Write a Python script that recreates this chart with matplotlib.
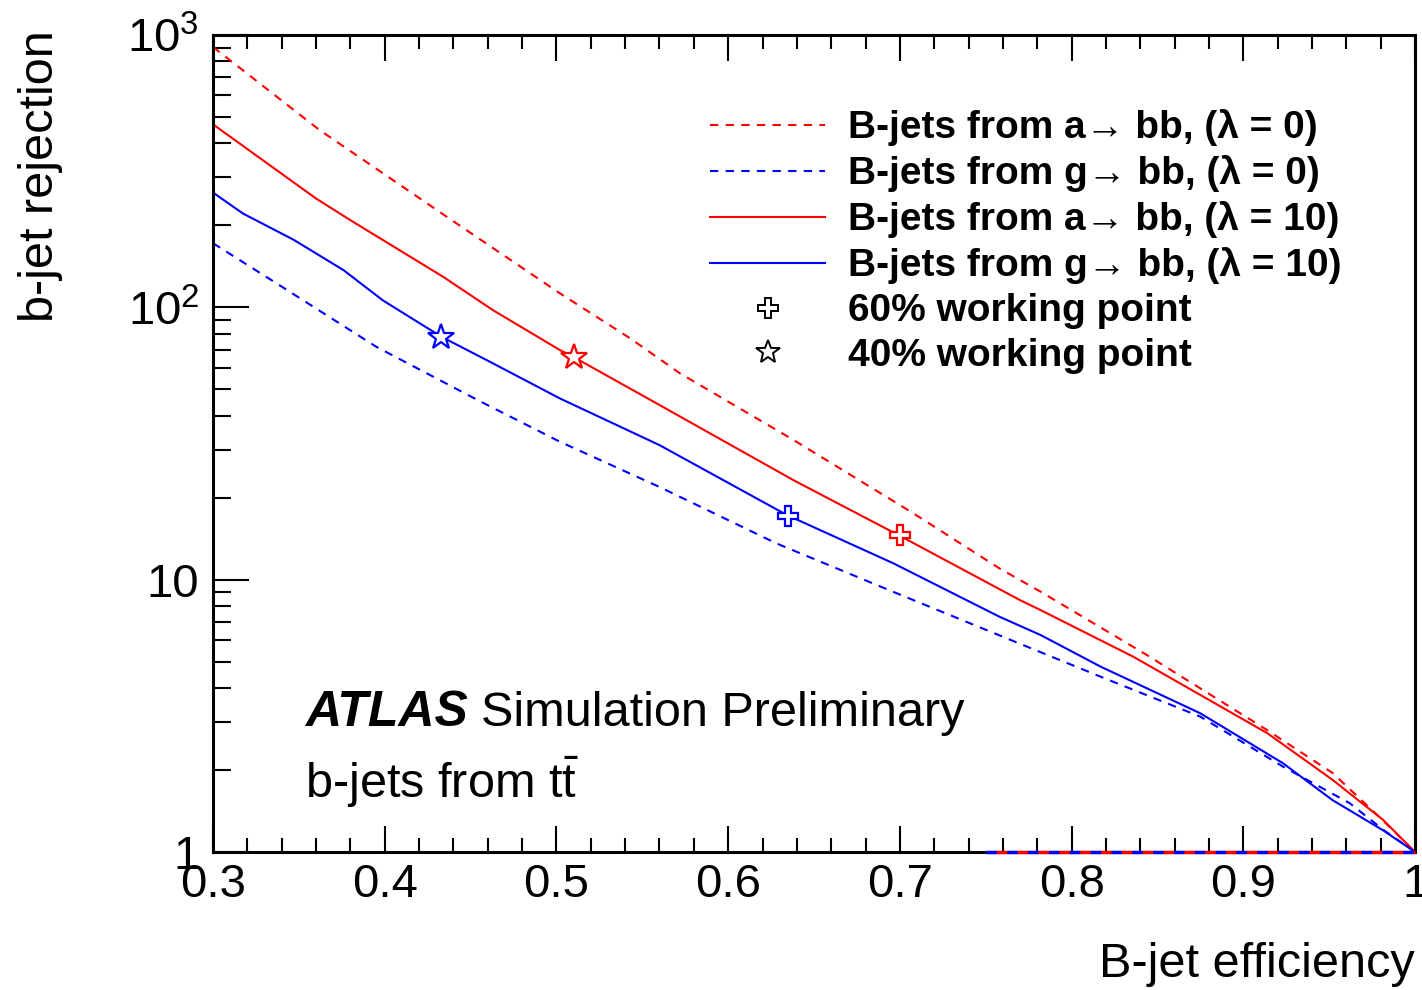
import matplotlib
matplotlib.use("Agg")
import matplotlib.pyplot as plt
from matplotlib.ticker import LogLocator, MultipleLocator, FixedFormatter, FixedLocator, NullFormatter

plt.rcParams['font.family'] = ['Liberation Sans', 'DejaVu Sans']
plt.rcParams['mathtext.fontset'] = 'custom'
plt.rcParams['mathtext.rm'] = 'Liberation Sans'
plt.rcParams['mathtext.it'] = 'Liberation Sans:italic'
plt.rcParams['mathtext.bf'] = 'Liberation Sans:bold'

# ROC curves: b-jet efficiency vs rejection
eff_a0 = [0.30, 0.362, 0.432, 0.502, 0.543, 0.572, 0.638, 0.708, 0.758, 0.782, 0.844, 0.914, 0.952, 0.980, 1.00]
rej_a0 = [904, 448, 224, 112.6, 76.9, 57.2, 32.6, 17.5, 11.0, 9.03, 5.28, 2.80, 1.95, 1.33, 1.0]

eff_g0 = [0.30, 0.337, 0.395, 0.454, 0.502, 0.560, 0.628, 0.696, 0.760, 0.817, 0.875, 0.923, 0.962, 0.982, 1.00]
rej_g0 = [172, 122.5, 71.7, 45.7, 32.1, 21.9, 13.6, 9.03, 6.17, 4.40, 3.14, 2.06, 1.51, 1.20, 1.0]

eff_a10 = [0.30, 0.360, 0.380, 0.434, 0.463, 0.502, 0.510, 0.560, 0.638, 0.699, 0.770, 0.782, 0.836, 0.914, 0.952, 0.9815, 0.991, 1.00]
rej_a10 = [470, 251, 209, 129.5, 97.7, 69.7, 65.7, 43.8, 23.2, 14.6, 8.41, 7.73, 5.21, 2.73, 1.84, 1.31, 1.14, 1.0]

eff_g10 = [0.30, 0.3175, 0.347, 0.376, 0.399, 0.433, 0.463, 0.502, 0.560, 0.634, 0.696, 0.758, 0.782, 0.817, 0.875, 0.923, 0.952, 0.9815, 1.00]
rej_g10 = [264, 221, 177, 137, 106, 78, 62.3, 46.3, 31.2, 17.3, 11.5, 7.31, 6.26, 4.79, 3.23, 2.12, 1.55, 1.20, 1.0]

# working points (60% cross, 40% star)
wp60_eff = {'a': 0.700, 'g': 0.635}
wp60_rej = {'a': 14.6, 'g': 17.1}
wp40_eff = {'a': 0.510, 'g': 0.433}
wp40_rej = {'a': 65.7, 'g': 77.8}

# flat part at rejection 1
floor_eff = [0.75, 1.0]
floor_rej = [1.0, 1.0]

labels = ["B-jets from a\u2192 bb, (\u03bb = 0)",
          "B-jets from g\u2192 bb, (\u03bb = 0)",
          "B-jets from a\u2192 bb, (\u03bb = 10)",
          "B-jets from g\u2192 bb, (\u03bb = 10)",
          "60% working point",
          "40% working point"]

fig = plt.figure(figsize=(14.22, 9.90), dpi=100)
ax = fig.add_axes([0.1498, 0.1394, 0.8453, 0.8252])

lw = 1.5
dash = (0, (4, 3.5))
ax.plot(floor_eff, floor_rej, color='blue', lw=2.5, ls=(0, (3, 3)), clip_on=False, zorder=3)
ax.plot(floor_eff, floor_rej, color='red', lw=2.5, ls=(3, (3, 3)), clip_on=False, zorder=3)
h1, = ax.plot(eff_a0, rej_a0, color='red', lw=lw, ls=dash)
h2, = ax.plot(eff_g0, rej_g0, color='blue', lw=lw, ls=dash)
h3, = ax.plot(eff_a10, rej_a10, color='red', lw=lw)
h4, = ax.plot(eff_g10, rej_g10, color='blue', lw=lw)

for k, c in (('a', 'red'), ('g', 'blue')):
    ax.plot(wp60_eff[k], wp60_rej[k], marker='P', ms=15, mfc='white', mec=c, mew=1.6, zorder=5)
    ax.plot(wp40_eff[k], wp40_rej[k], marker='*', ms=19, mfc='white', mec=c, mew=1.6, zorder=5)

h5, = ax.plot([], [], ls='none', marker='P', ms=15, mfc='white', mec='black', mew=1.4)
h6, = ax.plot([], [], ls='none', marker='*', ms=18, mfc='white', mec='black', mew=1.4)

ax.set_yscale('log')
ax.set_xlim(0.3, 1.0)
ax.set_ylim(1, 1000)

ax.xaxis.set_major_locator(FixedLocator([0.3, 0.4, 0.5, 0.6, 0.7, 0.8, 0.9, 1.0]))
ax.xaxis.set_major_formatter(FixedFormatter(['0.3', '0.4', '0.5', '0.6', '0.7', '0.8', '0.9', '1']))
ax.xaxis.set_minor_locator(MultipleLocator(0.02))
ax.yaxis.set_major_locator(FixedLocator([1, 10, 100, 1000]))
ax.yaxis.set_major_formatter(FixedFormatter(['1', '10', r'$10^2$', r'$10^3$']))
ax.yaxis.set_minor_locator(LogLocator(base=10, subs=range(2, 10)))
ax.yaxis.set_minor_formatter(NullFormatter())

ax.tick_params(axis='x', which='major', direction='in', length=19, width=1.5, top=True, bottom=True,
               labelsize=34, pad=8)
ax.tick_params(axis='x', which='minor', direction='in', length=10, width=1.5, top=True, bottom=True)
ax.tick_params(axis='y', which='major', direction='in', length=26, width=1.5, left=True, right=False,
               labelsize=34, pad=10)
ax.tick_params(axis='y', which='minor', direction='in', length=13, width=1.5, left=True, right=False)
for s in ax.spines.values():
    s.set_linewidth(2.2)

ax.set_xlabel("B-jet efficiency", fontsize=35, loc='right')
ax.xaxis.set_label_coords(1.0, -0.110)
ax.set_ylabel("b-jet rejection", fontsize=35, loc='top')
ax.yaxis.set_label_coords(-0.125, 1.006)

ax.text(0.0765, 0.154, "ATLAS", transform=ax.transAxes, fontsize=36, fontweight='bold', style='italic',
        va='baseline')
ax.text(0.223, 0.154, "Simulation Preliminary", transform=ax.transAxes, fontsize=35, va='baseline')
ax.text(0.0765, 0.066, r"b-jets from $\mathrm{t\bar{t}}$", transform=ax.transAxes, fontsize=35,
        va='baseline')

leg = ax.legend([h1, h2, h3, h4, h5, h6], labels, loc='upper left', bbox_to_anchor=(0.4135, 0.909),
                frameon=False, prop={'size': 28, 'weight': 'bold'}, handlelength=2.96,
                handletextpad=0.59, labelspacing=0.23, borderpad=0, borderaxespad=0)

fig.savefig("out.png", dpi=100)
